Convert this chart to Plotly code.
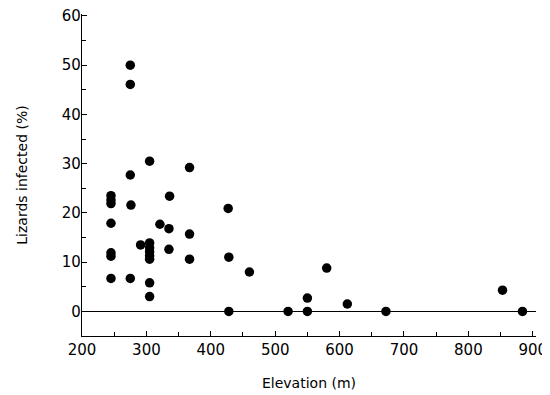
import plotly.graph_objects as go

elevation = [275, 275, 305, 275, 367,
             245, 245, 245, 276, 336, 427,
             245, 321, 335, 367, 291,
             305, 305, 305, 305, 305,
             245, 245, 335, 367, 428, 460,
             245, 275, 305, 305, 428,
             520, 550, 550, 580, 612, 672, 853, 884]
infected = [50, 46.1, 30.5, 27.7, 29.2,
            23.5, 22.6, 21.9, 21.6, 23.4, 20.9,
            17.9, 17.7, 16.8, 15.7, 13.5,
            13.9, 12.9, 12.1, 11.3, 10.6,
            11.9, 11.2, 12.6, 10.6, 11.0, 8.0,
            6.7, 6.7, 5.8, 3.0, 0,
            0, 0, 2.7, 8.8, 1.5, 0, 4.3, 0]

x_ticks = [200, 300, 400, 500, 600, 700, 800, 900]
y_ticks = [0, 10, 20, 30, 40, 50, 60]

font = dict(family="DejaVu Sans, sans-serif", size=15, color="black")

fig = go.Figure()
fig.add_trace(go.Scatter(
    x=elevation, y=infected, mode="markers",
    marker=dict(color="black", size=9.5, line=dict(width=0)),
    showlegend=False, hoverinfo="skip"))

# page body has an 8px default margin, so the figure is sized to fit the window
fig.update_layout(
    width=542, height=387,
    margin=dict(l=74, r=14, t=6, b=59),
    paper_bgcolor="white", plot_bgcolor="white",
    font=font,
)
fig.update_xaxes(
    range=[200, 905], tickvals=x_ticks, ticktext=[str(v) for v in x_ticks],
    showgrid=False, zeroline=False, automargin=False,
    showline=True, linecolor="black", linewidth=1.3,
    ticks="inside", ticklen=5, tickwidth=1.3, tickcolor="black",
    minor=dict(ticks="inside", dtick=50, ticklen=4, tickwidth=1.2, tickcolor="black"),
    title=dict(text="Elevation (m)", standoff=20, font=dict(size=14)),
)
fig.update_yaxes(
    range=[-5, 60.4], tickvals=y_ticks, ticktext=[str(v) for v in y_ticks],
    showgrid=False, zeroline=True, zerolinecolor="black", zerolinewidth=1.2,
    automargin=False, ticklabelstandoff=-3, ticklabeloverflow="allow",
    showline=True, linecolor="black", linewidth=1.3,
    ticks="inside", ticklen=5, tickwidth=1.3, tickcolor="black",
    minor=dict(ticks="inside", dtick=5, ticklen=4, tickwidth=1.2, tickcolor="black"),
    title=dict(text="Lizards infected (%)", standoff=30, font=dict(size=14)),
)

fig.write_html("out.html")
